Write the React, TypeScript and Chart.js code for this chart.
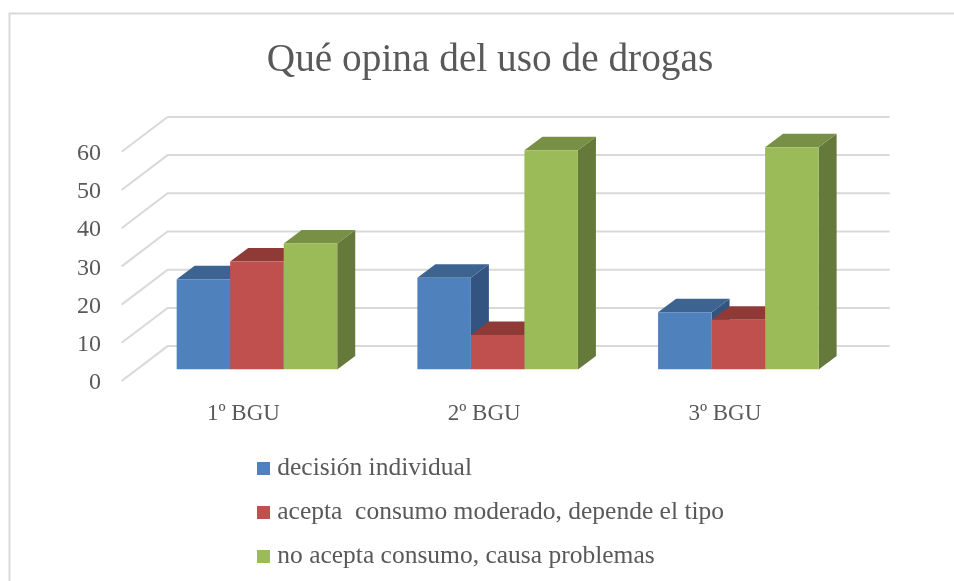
import React, { useEffect, useRef } from "react";
import { Chart, registerables } from "chart.js";

Chart.register(...registerables);

const title = "Qué opina del uso de drogas";
const categories = ["1º BGU", "2º BGU", "3º BGU"];
const seriesNames = [
  "decisión individual",
  "acepta  consumo moderado, depende el tipo",
  "no acepta consumo, causa problemas",
];
const decisionIndividual = [23.6, 24, 15];
const aceptaConsumo = [28.3, 9, 13];
const noAcepta = [33, 57.4, 58.2];
const frontColors = ["#4F81BD", "#C0504D", "#9BBB59"];
const topColors = ["#3D6391", "#8F3A37", "#779045"];
const sideColors = ["#335480", "#7D3432", "#657A3A"];
const yTicks = [0, 10, 20, 30, 40, 50, 60];

const FONT = "'Liberation Serif', serif";
const TEXT = "#595959";
const GRID = "#D9D9D9";

const BAR_DX = 18;
const BAR_DY = 13.5;

function square(color: string) {
  const c = document.createElement("canvas");
  c.width = 13;
  c.height = 13;
  const g = c.getContext("2d")!;
  g.fillStyle = color;
  g.fillRect(0, 0, 13, 13);
  return c;
}

const frame = {
  id: "frame",
  beforeDraw(chart: any) {
    const { ctx, width, height } = chart;
    ctx.save();
    ctx.fillStyle = "#ffffff";
    ctx.fillRect(0, 0, width, height);
    ctx.strokeStyle = GRID;
    ctx.lineWidth = 2;
    ctx.beginPath();
    ctx.moveTo(9.5, height);
    ctx.lineTo(9.5, 13.5);
    ctx.lineTo(width, 13.5);
    ctx.stroke();
    ctx.restore();
  },
};

const placeBoxes = {
  id: "placeBoxes",
  afterLayout(chart: any) {
    const l = chart.legend;
    l.left = 244;
    l.right = 760;
    l.top = 437.25;
    l.bottom = 581;
    l.width = l.right - l.left;
    l.height = l.bottom - l.top;
    const t = chart.titleBlock;
    t.left = 26;
    t.right = 954;
    t.width = t.right - t.left;
  },
};

const depth3d = {
  id: "depth3d",
  beforeDatasetsDraw(chart: any) {
    const { ctx, chartArea, scales } = chart;
    const y = scales.y;
    ctx.save();
    ctx.strokeStyle = GRID;
    ctx.lineWidth = 2;
    yTicks.forEach((v) => {
      const py = y.getPixelForValue(v);
      ctx.beginPath();
      ctx.moveTo(chartArea.left - 15, py + 11.5);
      ctx.lineTo(chartArea.left + 31, py - 23.4);
      ctx.lineTo(chartArea.right + 31, py - 23.4);
      ctx.stroke();
    });
    categories.forEach((_, ci) => {
      chart.data.datasets.forEach((_d: any, di: number) => {
        const el = chart.getDatasetMeta(di).data[ci];
        const half = el.width / 2;
        const l = el.x - half;
        const r = el.x + half;
        const t = el.y;
        const b = el.base;
        ctx.fillStyle = sideColors[di];
        ctx.beginPath();
        ctx.moveTo(r, t);
        ctx.lineTo(r + BAR_DX, t - BAR_DY);
        ctx.lineTo(r + BAR_DX, b - BAR_DY);
        ctx.lineTo(r, b);
        ctx.closePath();
        ctx.fill();
        ctx.fillStyle = topColors[di];
        ctx.beginPath();
        ctx.moveTo(l, t);
        ctx.lineTo(l + BAR_DX, t - BAR_DY);
        ctx.lineTo(r + BAR_DX, t - BAR_DY);
        ctx.lineTo(r, t);
        ctx.closePath();
        ctx.fill();
      });
    });
    ctx.restore();
  },
};

export default function App() {
  const ref = useRef<HTMLCanvasElement>(null);
  useEffect(() => {
    const values = [decisionIndividual, aceptaConsumo, noAcepta];
    const chart = new Chart(ref.current!, {
      type: "bar",
      data: {
        labels: categories,
        datasets: seriesNames.map((label, i) => ({
          label,
          data: values[i],
          backgroundColor: frontColors[i],
          categoryPercentage: 0.667,
          barPercentage: 1,
          borderWidth: 0,
        })),
      },
      options: {
        animation: false,
        responsive: false,
        layout: { padding: { left: 0, top: 0, right: 95.3, bottom: 0 } },
        plugins: {
          title: {
            display: true,
            text: title,
            color: TEXT,
            font: { family: FONT, size: 39.3, weight: "normal", lineHeight: 1 },
            padding: { top: 41.5, bottom: 59.5 },
          },
          legend: {
            position: "bottom",
            align: "start",
            maxHeight: 1,
            labels: {
              color: TEXT,
              font: { family: FONT, size: 25.5 },
              padding: 18.5,
              usePointStyle: true,
              pointStyleWidth: 2,
              generateLabels: () =>
                seriesNames.map((text, i) => ({
                  text,
                  fillStyle: frontColors[i],
                  strokeStyle: frontColors[i],
                  fontColor: TEXT,
                  lineWidth: 0,
                  pointStyle: square(frontColors[i]),
                  datasetIndex: i,
                })),
            },
          },
          tooltip: { enabled: false },
        },
        scales: {
          x: {
            grid: { display: false, drawTicks: false },
            border: { display: false },
            ticks: {
              color: TEXT,
              font: { family: FONT, size: 23 },
              padding: 31,
              labelOffset: -13.5,
              maxRotation: 0,
            },
            afterFit: (s: any) => {
              s.height = 210.5;
            },
          },
          y: {
            min: 0,
            max: 60,
            grid: { display: false, drawTicks: false },
            border: { display: false },
            afterBuildTicks: (s: any) => {
              s.ticks = yTicks.map((value) => ({ value }));
            },
            ticks: {
              color: TEXT,
              font: { family: FONT, size: 24 },
              padding: 35.6,
              labelOffset: 13.5,
            },
            afterFit: (s: any) => {
              s.width = 136.6;
            },
          },
        },
      },
      plugins: [frame, placeBoxes, depth3d],
    } as any);
    return () => chart.destroy();
  }, []);
  return (
    <div style={{ position: "absolute", left: 0, top: 0, width: 954, height: 581 }}>
      <canvas ref={ref} width={954} height={581} style={{ display: "block", width: 954, height: 581 }} />
    </div>
  );
}
